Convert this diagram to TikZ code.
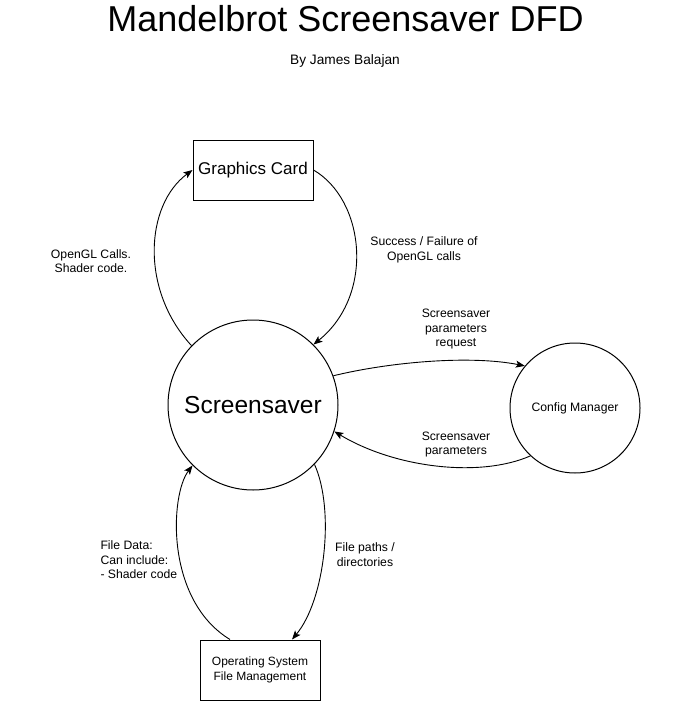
\documentclass[tikz,border=0pt]{standalone}
\usepackage{fontspec}
\setmainfont{Liberation Sans}
\usetikzlibrary{arrows.meta, positioning, calc}

\begin{document}
\begin{tikzpicture}[x=1pt, y=-1pt,
    entity/.style={draw, line width=1pt, minimum width=120pt, minimum height=60pt, inner sep=0pt, align=center},
    process/.style={draw, circle, line width=1pt, inner sep=0pt, align=center},
    flow/.style={-{Stealth[length=9pt, width=7pt, inset=2pt]}, line width=0.9pt},
    lbl/.style={font=\fontsize{12.2}{14.5}\selectfont, align=center}]
        \useasboundingbox (0,0) rectangle (691,701);
        % Title
        \node[anchor=base, font=\fontsize{36}{40}\selectfont] (title) at (345.5,32) {Mandelbrot Screensaver DFD};
        \node[anchor=base, font=\fontsize{13.7}{16}\selectfont] (author) at (345,64) {By James Balajan};
        % Processes
        \node[process, minimum size=170pt, font=\fontsize{24.5}{28}\selectfont] (saver) at (253,405) {Screensaver};
        \node[process, minimum size=130pt, font=\fontsize{12.2}{14}\selectfont] (config) at (575,408) {Config Manager};
        % External entities
        \node[entity, font=\fontsize{17}{19}\selectfont] (gpu) at (253,170) {Graphics Card};
        \node[entity, font=\fontsize{12}{15.5}\selectfont] (os) at (260,670) {Operating System\\File Management};
        % Graphics card flows
        \draw[flow] (saver.136) .. controls (140,290) and (145,205) .. (gpu.west);
        \node[lbl] (glcalls) at (91,261) {OpenGL Calls.\\Shader code.};
        \draw[flow] (gpu.east) .. controls (365,200) and (375,295) .. (saver.45);
        \node[lbl] (glresult) at (424,250) {Success / Failure of\\OpenGL calls};
        % Config manager flows
        \draw[flow] (saver.20) .. controls (390,362) and (470,355) .. (config.140);
        \node[lbl] (request) at (456,329.5) {Screensaver\\parameters\\request};
        \draw[flow] (config.-133) .. controls (480,478) and (395,468) .. (saver.-18);
        \node[lbl] (params) at (456,444.5) {Screensaver\\parameters};
        % File management flows
        \draw[flow] ([xshift=-30pt]os.north) .. controls (165,600) and (170,495) .. (saver.-135);
        \node[lbl, align=left, anchor=west] (filedata) at (97,560) {File Data:\\Can include:\\- Shader code};
        \draw[flow] (saver.-44) .. controls (335,510) and (325,600) .. ([xshift=32pt]os.north);
        \node[lbl] (paths) at (365,554.5) {File paths /\\directories};
    \end{tikzpicture}
\end{document}
